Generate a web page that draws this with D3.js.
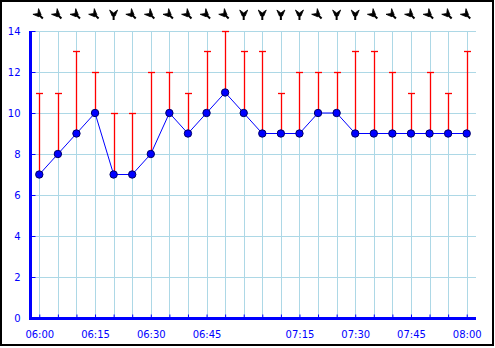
<!DOCTYPE html>
<html>
<head>
<meta charset="utf-8">
<script src="https://cdn.jsdelivr.net/npm/d3@7"></script>
<style>
  body { margin: 0; background: #fff; }
  text { font-family: "DejaVu Sans", sans-serif; font-size: 10px; fill: #0000ff; }
</style>
</head>
<body>
<div id="chart"></div>
<script>
// wind data, 5 minute samples (07:00 is missing)
var times = ["06:00","06:05","06:10","06:15","06:20","06:25","06:30","06:35","06:40","06:45",
             "06:50","06:55","07:05","07:10","07:15","07:20","07:25","07:30","07:35","07:40",
             "07:45","07:50","07:55","08:00"];
var speed = [7,8,9,10,7,7,8,10,9,10,11,10,9,9,9,10,10,9,9,9,9,9,9,9];
var gust  = [11,11,13,12,10,10,12,12,11,13,14,13,13,11,12,12,12,13,13,12,11,12,11,13];
var direction = [315,315,315,315,360,315,315,315,315,315,315,360,360,360,360,315,360,360,315,315,315,315,315,315];
var yTicks = [0,2,4,6,8,10,12,14];

var W = 495, H = 348;
var pLeft = 30, pRight = 476, pTop = 31, pBottom = 318;

var svg = d3.select("#chart").append("svg")
    .attr("width", W)
    .attr("height", H);

var x = d3.scalePoint().domain(times).range([pLeft, pRight]).padding(0.5);
var y = d3.scaleLinear().domain([0, 14]).range([pBottom, pTop]);

var data = times.map(function(t, i){
    return {t: t, v: speed[i], g: gust[i], d: direction[i]};
});

// outer frame
svg.append("rect")
    .attr("x", 1).attr("y", 1)
    .attr("width", 492).attr("height", 344)
    .attr("fill", "none")
    .attr("stroke", "#000")
    .attr("stroke-width", 2);

// grid
svg.append("g").selectAll("line").data(yTicks.slice(1)).enter().append("line")
    .attr("x1", pLeft).attr("x2", pRight)
    .attr("y1", function(d){ return Math.round(y(d)) + 0.5; })
    .attr("y2", function(d){ return Math.round(y(d)) + 0.5; })
    .attr("stroke", "#add8e6");

svg.append("g").selectAll("line").data(times).enter().append("line")
    .attr("x1", function(d){ return Math.round(x(d)) + 0.5; })
    .attr("x2", function(d){ return Math.round(x(d)) + 0.5; })
    .attr("y1", pTop).attr("y2", pBottom)
    .attr("stroke", "#add8e6");

// axes
var yAxis = d3.axisLeft(y).tickValues(yTicks).tickSize(-5).tickPadding(10);
var gy = svg.append("g").attr("transform", "translate(" + (pLeft + 0.5) + ",0)").call(yAxis);
gy.select(".domain").attr("stroke", "#0000ff").attr("stroke-width", 3)
    .attr("d", "M0," + pTop + "V" + pBottom);
gy.selectAll(".tick line").attr("stroke", "#0000ff");
gy.selectAll("text").attr("fill", "#0000ff").attr("font-size", 10)
    .attr("font-family", "DejaVu Sans, sans-serif");

var xAxis = d3.axisBottom(x).tickSize(-4).tickPadding(12)
    .tickFormat(function(d){ return (+d.slice(3)) % 15 === 0 ? d : ""; });
var gx = svg.append("g").attr("transform", "translate(0," + (pBottom + 0.5) + ")").call(xAxis);
gx.select(".domain").attr("stroke", "#0000ff").attr("stroke-width", 3)
    .attr("d", "M" + (pLeft - 1) + ",0H" + pRight);
gx.selectAll(".tick line").attr("stroke", "#0000ff");
gx.selectAll("text").attr("fill", "#0000ff").attr("font-size", 10)
    .attr("font-family", "DejaVu Sans, sans-serif");

// gust bars
var bars = svg.append("g").selectAll("g").data(data).enter().append("g")
    .attr("transform", function(d){ return "translate(" + (Math.round(x(d.t)) + 0.5) + ",0)"; });
bars.append("line")
    .attr("y1", function(d){ return y(d.v); })
    .attr("y2", function(d){ return Math.round(y(d.g)); })
    .attr("stroke", "#ff0000")
    .attr("stroke-width", 1.3);
bars.append("line")
    .attr("x1", -3.5).attr("x2", 3.5)
    .attr("y1", function(d){ return Math.round(y(d.g)) + 0.5; })
    .attr("y2", function(d){ return Math.round(y(d.g)) + 0.5; })
    .attr("stroke", "#ff0000")
    .attr("stroke-width", 1.3);

// speed line
var line = d3.line()
    .x(function(d){ return x(d.t); })
    .y(function(d){ return y(d.v); });
svg.append("path").datum(data)
    .attr("d", line)
    .attr("fill", "none")
    .attr("stroke", "#0000ff")
    .attr("stroke-width", 1);

svg.append("g").selectAll("circle").data(data).enter().append("circle")
    .attr("cx", function(d){ return x(d.t); })
    .attr("cy", function(d){ return y(d.v); })
    .attr("r", 3.7)
    .attr("fill", "#0000ff")
    .attr("stroke", "#000066")
    .attr("stroke-width", 1);

// direction arrows
var arrows = svg.append("g").selectAll("g").data(data).enter().append("g")
    .attr("transform", function(d){ return "translate(" + x(d.t) + ",15) rotate(" + d.d + ")"; });
arrows.append("path")
    .attr("d", "M-4,-5L0,-2L4,-5L1.5,1L-1.5,1Z")
    .attr("fill", "#000").attr("stroke", "#000").attr("stroke-width", 0.8);
arrows.append("line")
    .attr("x1", 0).attr("x2", 0).attr("y1", -1).attr("y2", 5)
    .attr("stroke", "#000").attr("stroke-width", 2);
</script>
</body>
</html>
